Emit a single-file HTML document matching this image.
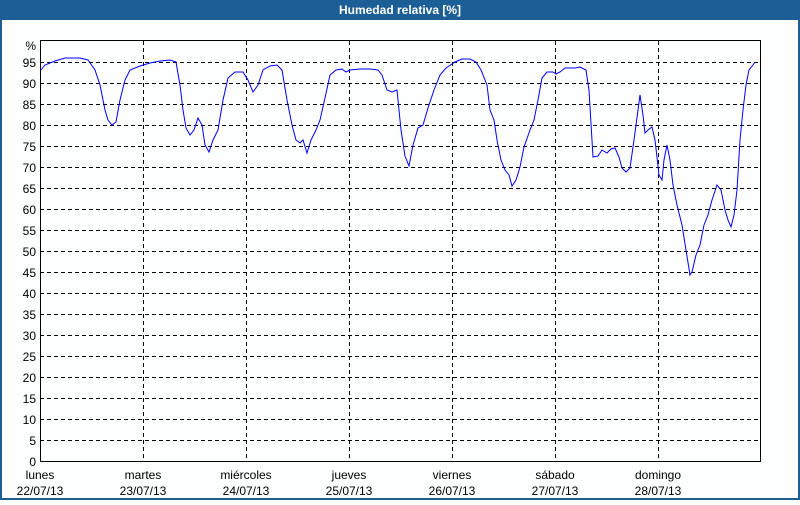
<!DOCTYPE html><html><head><style>
body{margin:0;width:800px;height:500px;overflow:hidden;background:#fff;font-family:"Liberation Sans",sans-serif}
</style></head><body>
<svg width="800" height="500" xmlns="http://www.w3.org/2000/svg" font-family="Liberation Sans, sans-serif" font-size="12">
<rect x="0" y="0" width="800" height="500" fill="#1c5f96"/>
<rect x="2" y="20" width="796" height="478" fill="#fdfefe"/>
<text x="400" y="14" fill="#fff" font-weight="bold" text-anchor="middle" font-size="12">Humedad relativa [%]</text>
<g stroke="#000" stroke-dasharray="4,3" stroke-width="1">
<path d="M40 440.5H760M40 419.5H760M40 398.5H760M40 377.5H760M40 356.5H760M40 335.5H760M40 314.5H760M40 293.5H760M40 272.5H760M40 251.5H760M40 230.5H760M40 209.5H760M40 188.5H760M40 167.5H760M40 146.5H760M40 125.5H760M40 104.5H760M40 83.5H760M40 62.5H760"/>
<path d="M143.5 41V461M246.5 41V461M349.5 41V461M452.5 41V461M555.5 41V461M658.5 41V461"/>
</g>
<rect x="40.5" y="40.5" width="720" height="421" fill="none" stroke="#000"/>
<g text-anchor="end" fill="#000">
<text x="36" y="466">0</text><text x="36" y="445">5</text><text x="36" y="424">10</text><text x="36" y="403">15</text><text x="36" y="382">20</text><text x="36" y="361">25</text><text x="36" y="340">30</text><text x="36" y="319">35</text><text x="36" y="298">40</text><text x="36" y="277">45</text><text x="36" y="256">50</text><text x="36" y="235">55</text><text x="36" y="214">60</text><text x="36" y="193">65</text><text x="36" y="172">70</text><text x="36" y="151">75</text><text x="36" y="130">80</text><text x="36" y="109">85</text><text x="36" y="88">90</text><text x="36" y="67">95</text><text x="36" y="50">%</text>
</g>
<g text-anchor="middle" fill="#000">
<text x="40" y="479">lunes</text><text x="40" y="495">22/07/13</text>
<text x="143" y="479">martes</text><text x="143" y="495">23/07/13</text>
<text x="246" y="479">miércoles</text><text x="246" y="495">24/07/13</text>
<text x="349" y="479">jueves</text><text x="349" y="495">25/07/13</text>
<text x="452" y="479">viernes</text><text x="452" y="495">26/07/13</text>
<text x="555" y="479">sábado</text><text x="555" y="495">27/07/13</text>
<text x="658" y="479">domingo</text><text x="658" y="495">28/07/13</text>
</g>
<polyline fill="none" stroke="#0000ff" stroke-width="1" points="41,70 45,65 55,61 65,58 80,58 88,60 95,70 100,85 105,110 108,120 112,125 116,122 120,100 125,80 130,70 140,66 150,63 160,61 170,60 176,62 180,85 183,110 186,128 190,135 194,130 198,118 202,125 205,145 209,152 213,140 218,130 223,100 228,78 235,72 243,72 248,80 253,92 258,85 263,70 270,66 277,65 282,70 287,100 292,125 296,140 300,143 303,140 307,153 311,140 316,130 320,120 325,98 330,75 336,70 342,69 346,72 350,70 360,69 370,69 378,70 382,75 387,90 392,92 397,90 401,130 405,156 409,166 413,145 418,128 423,125 428,108 434,90 440,75 446,68 455,62 462,59 470,59 476,62 481,70 487,85 490,110 494,120 497,140 501,160 505,170 509,175 512,186 516,180 520,167 524,147 530,130 534,120 538,100 542,78 547,72 553,72 556,74 560,72 565,68 575,68 580,67 586,70 589,90 593,157 598,156 602,150 607,153 611,149 615,148 619,157 622,168 626,172 630,168 634,140 638,110 640,95 643,115 645,133 648,130 652,127 655,140 659,175 662,180 664,160 667,145 670,160 673,185 677,205 682,225 686,250 690,275 692,272 696,255 700,245 704,225 708,215 712,200 717,185 721,190 725,210 728,220 731,227 734,215 737,190 740,140 743,110 746,85 749,70 753,65 755,62"/>
</svg>
</body></html>
